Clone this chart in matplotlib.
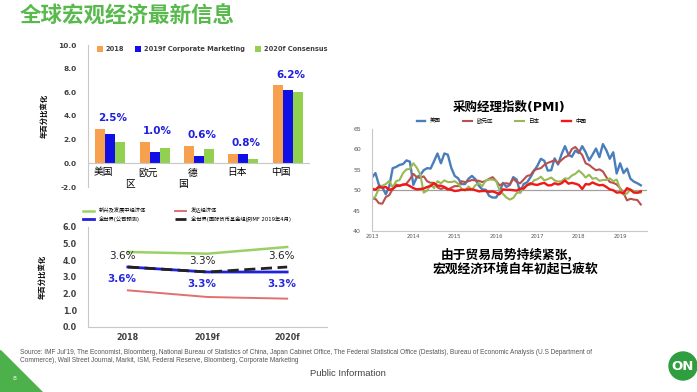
import matplotlib
matplotlib.use('Agg')
import matplotlib.pyplot as plt
import numpy as np
from matplotlib.patches import Polygon, Ellipse

plt.rcParams['font.family'] = ['DejaVu Sans', 'Noto Sans CJK SC']
W, H = 697, 392

# ---- GDP bar chart data ----
countries_top = ['美国', '欧元', '德', '日本', '中国']
countries_wrap = ['', '区', '国', '', '']
gdp_2018 = [2.9, 1.8, 1.5, 0.8, 6.6]
gdp_2019f = [2.5, 1.0, 0.6, 0.8, 6.2]
gdp_2020f = [1.8, 1.3, 1.2, 0.4, 6.0]
gdp_labels = ['2.5%', '1.0%', '0.6%', '0.8%', '6.2%']

# ---- growth line chart data ----
years = ['2018', '2019f', '2020f']
emerging = [4.5, 4.4, 4.8]
advanced = [2.2, 1.8, 1.7]
world_corp = [3.6, 3.3, 3.3]
world_imf = [3.6, 3.3, 3.6]
imf_labels = ['3.6%', '3.3%', '3.6%']
corp_labels = ['3.6%', '3.3%', '3.3%']

# ---- PMI data (monthly, Jan 2013 - Jul 2019) ----
pmi_us = [53.1, 54.2, 51.3, 50.7, 49.0, 50.9, 55.4, 55.7, 56.2, 56.4, 57.3, 57.0,
          51.3, 53.2, 53.7, 54.9, 55.4, 55.3, 57.1, 59.0, 56.6, 59.0, 58.7, 55.5,
          53.5, 52.9, 51.5, 51.5, 52.8, 53.5, 52.7, 51.1, 50.2, 50.1, 48.6, 48.2,
          48.2, 49.5, 51.8, 50.8, 51.3, 53.2, 52.6, 49.4, 51.5, 51.9, 53.2, 54.7,
          56.0, 57.7, 57.2, 54.8, 54.9, 57.8, 56.3, 58.8, 60.8, 58.7, 58.2, 59.7,
          59.1, 60.8, 59.3, 57.3, 58.7, 60.2, 58.1, 61.3, 59.8, 57.7, 59.3, 54.1,
          56.6, 54.2, 55.3, 52.8, 52.1, 51.7, 51.2]
pmi_ez = [47.9, 47.9, 46.8, 46.7, 48.3, 48.8, 50.3, 51.4, 51.1, 51.3, 51.6, 52.7,
          54.0, 53.2, 53.0, 53.4, 52.2, 51.8, 51.8, 50.7, 50.3, 50.6, 50.1, 50.6,
          51.0, 51.0, 52.2, 52.0, 52.2, 52.5, 52.4, 52.3, 52.0, 52.3, 52.8, 53.2,
          52.3, 51.2, 51.6, 51.7, 51.5, 52.8, 52.0, 51.7, 52.6, 53.5, 53.7, 54.9,
          55.2, 55.4, 56.2, 56.7, 57.0, 57.4, 56.6, 57.4, 58.1, 58.5, 60.1, 60.6,
          59.6, 58.6, 56.6, 56.2, 55.5, 54.9, 55.1, 54.6, 53.2, 52.0, 51.8, 51.4,
          50.5, 49.3, 47.5, 47.9, 47.7, 47.6, 46.5]
pmi_jp = [47.7, 48.5, 50.4, 51.1, 51.5, 52.3, 50.7, 52.2, 52.5, 54.2, 55.1, 55.2,
          56.6, 55.5, 53.9, 49.4, 49.9, 51.5, 50.5, 52.2, 51.7, 52.4, 52.0, 52.0,
          52.2, 51.6, 50.3, 49.9, 50.9, 50.1, 51.2, 51.7, 51.0, 52.4, 52.6, 52.6,
          52.3, 50.1, 49.1, 48.2, 47.7, 48.1, 49.3, 49.5, 50.4, 51.4, 51.3, 52.4,
          52.7, 53.3, 52.4, 52.7, 53.1, 52.4, 52.1, 52.2, 52.9, 52.8, 53.6, 54.0,
          54.8, 54.1, 53.1, 53.8, 52.8, 53.0, 52.3, 52.5, 52.5, 52.9, 52.2, 52.6,
          50.3, 48.9, 49.2, 50.2, 49.8, 49.3, 49.4]
pmi_cn = [50.4, 50.1, 50.9, 50.6, 50.8, 50.1, 50.3, 51.0, 51.1, 51.4, 51.4, 51.0,
          50.5, 50.2, 50.3, 50.4, 50.8, 51.0, 51.7, 51.1, 51.1, 50.8, 50.3, 50.1,
          49.8, 49.9, 50.1, 50.1, 50.2, 50.2, 50.0, 49.7, 49.8, 49.8, 49.6, 49.7,
          49.4, 49.0, 50.2, 50.1, 50.1, 50.0, 49.9, 50.4, 50.4, 51.2, 51.7, 51.4,
          51.3, 51.6, 51.8, 51.2, 51.2, 51.7, 51.4, 51.7, 52.4, 51.6, 51.8, 51.6,
          51.3, 50.3, 51.5, 51.4, 51.9, 51.5, 51.2, 51.3, 50.8, 50.2, 50.0, 49.4,
          49.5, 49.2, 50.5, 50.1, 49.4, 49.4, 49.7]
pmi_years = ['2013', '2014', '2015', '2016', '2017', '2018', '2019']

fig = plt.figure(figsize=(W / 100, H / 100), dpi=100)
fig.patch.set_facecolor('white')


def box(x0, y0, x1, y1):
    return [x0 / W, 1 - y1 / H, (x1 - x0) / W, (y1 - y0) / H]


grey = '#c8c8c8'
tick_col = '#404040'

# title
fig.text(20 / W, 1 - 16 / H, '全球宏观经济最新信息', fontsize=15.5, fontweight='bold',
         color='#58b94c', va='center', ha='left', family=['Noto Sans CJK SC'])

# ---------------- bar chart ----------------
ax1 = fig.add_axes(box(88, 45, 310, 187))
x = np.arange(len(countries_top))
bw = 0.225
ax1.bar(x - bw, gdp_2018, bw, color='#f7a04d', label='2018')
ax1.bar(x, gdp_2019f, bw, color='#1010e6', label='2019f Corporate Marketing')
ax1.bar(x + bw, gdp_2020f, bw, color='#92d050', label='2020f Consensus')
ax1.set_xlim(-0.5, 4.5)
ax1.set_ylim(-2, 10)
ax1.set_yticks(np.arange(-2, 10.1, 2))
ax1.set_yticklabels([f'{v:.1f}' for v in np.arange(-2, 10.1, 2)])
ax1.tick_params(axis='y', length=0, pad=8, labelsize=5.3, labelcolor=tick_col)
for lab in ax1.get_yticklabels():
    lab.set_fontweight('bold')
ax1.set_xticks([])
for s in ['top', 'right', 'bottom']:
    ax1.spines[s].set_visible(False)
ax1.spines['left'].set_color(grey)
ax1.axhline(0, color=grey, lw=0.8)
for i in range(len(countries_top)):
    top = max(gdp_2018[i], gdp_2019f[i], gdp_2020f[i])
    ax1.annotate(gdp_labels[i], (i, top), xytext=(2, 4), textcoords='offset points',
                 ha='center', va='bottom', fontsize=7.5, fontweight='bold', color='#1f1fdc')
    ax1.text(i - 0.15, -0.35, countries_top[i], ha='center', va='top', fontsize=7)
    if countries_wrap[i]:
        ax1.text(i - (0.55 if i == 1 else 0.35), -1.3, countries_wrap[i],
                 ha='center', va='top', fontsize=7)
ax1.set_ylabel('年百分比变化', fontsize=5.3, fontweight='bold', labelpad=8)
ax1.legend(loc='upper left', bbox_to_anchor=(91 / W, 1 - 40 / H), bbox_transform=fig.transFigure,
           ncol=3, frameon=False, prop={'size': 4.8, 'weight': 'bold'}, handlelength=0.9,
           handleheight=0.9, handletextpad=0.4, columnspacing=1.6, labelcolor=tick_col)

# ---------------- line chart ----------------
ax2 = fig.add_axes(box(88, 227, 327, 327))
xi = np.arange(len(years))
ax2.plot(xi, emerging, color='#9bd164', lw=1.8, label='新兴及发展中经济体')
ax2.plot(xi, world_corp, color='#2020e0', lw=2.0, label='全世界(公司预测)')
ax2.plot(xi, advanced, color='#e07070', lw=1.4, label='发达经济体')
ax2.plot(xi, world_imf, color='#222222', lw=2.0, ls=(0, (4, 2)),
         label='全世界(国际货币基金组织IMF 2019年4月)')
ax2.set_xlim(-0.5, 2.5)
ax2.set_ylim(0, 6)
ax2.set_xticks(xi)
ax2.set_xticklabels(years, fontsize=5.8, fontweight='bold', color=tick_col)
ax2.set_yticks(np.arange(0, 6.1, 1))
ax2.set_yticklabels([f'{v:.1f}' for v in np.arange(0, 6.1, 1)])
ax2.tick_params(axis='y', length=0, pad=8, labelsize=5.8, labelcolor=tick_col)
ax2.tick_params(axis='x', length=0, pad=4)
for lab in ax2.get_yticklabels():
    lab.set_fontweight('bold')
for s in ['top', 'right']:
    ax2.spines[s].set_visible(False)
ax2.spines['left'].set_color(grey)
ax2.spines['bottom'].set_color(grey)
for i in xi:
    ax2.annotate(imf_labels[i], (i, world_imf[i]), xytext=(-4, 4), textcoords='offset points',
                 ha='center', va='bottom', fontsize=7.5, color='#222222')
    ax2.annotate(corp_labels[i], (i, world_corp[i]), xytext=(-4, -5), textcoords='offset points',
                 ha='center', va='top', fontsize=7.5, color='#2a2ae0', fontweight='bold')
ax2.set_ylabel('年百分比变化', fontsize=5.3, fontweight='bold', labelpad=12)
ax2.legend(loc='upper left', bbox_to_anchor=(78 / W, 1 - 203 / H), bbox_transform=fig.transFigure,
           ncol=2, frameon=False, prop={'size': 3.8}, handlelength=2.2, handletextpad=0.8,
           columnspacing=5.5, labelspacing=0.45)

# ---------------- PMI chart ----------------
ax3 = fig.add_axes(box(372, 129, 647, 231))
t = 2013 + np.arange(len(pmi_us)) / 12
ax3.axhline(50, color='#a0a0a0', lw=0.9)
ax3.plot(t, pmi_us, color='#4a7ebb', lw=1.7, label='美国')
ax3.plot(t, pmi_ez, color='#b9504d', lw=1.5, label='欧元区')
ax3.plot(t, pmi_jp, color='#98b954', lw=1.5, label='日本')
ax3.plot(t, pmi_cn, color='#f01818', lw=1.7, label='中国')
ax3.set_xlim(2013, 2019.65)
ax3.set_ylim(40, 65)
ax3.set_yticks(np.arange(40, 66, 5))
ax3.set_xticks([int(y) for y in pmi_years])
ax3.set_xticklabels(pmi_years)
ax3.tick_params(axis='y', length=0, pad=8, labelsize=4.5, labelcolor='#555555')
ax3.tick_params(axis='x', length=0, pad=2, labelsize=3.8, labelcolor='#555555')
for s in ['top', 'right']:
    ax3.spines[s].set_visible(False)
ax3.spines['left'].set_color(grey)
ax3.spines['bottom'].set_color(grey)
ax3.set_title('采购经理指数(PMI)', fontsize=9, fontweight='bold', pad=13)
ax3.legend(loc='lower center', bbox_to_anchor=(0.47, 1.0), ncol=4, frameon=False,
           prop={'size': 4}, handlelength=1.6, columnspacing=4.0)

fig.text(507 / W, 1 - 254 / H, '由于贸易局势持续紧张,', fontsize=9.2, fontweight='bold',
         ha='center', va='center', family=['Noto Sans CJK SC'])
fig.text(515 / W, 1 - 269 / H, '宏观经济环境自年初起已疲软', fontsize=9.2, fontweight='bold',
         ha='center', va='center', family=['Noto Sans CJK SC'])

# ---------------- footer ----------------
fig.patches.append(Polygon([[0, 1 - 350 / H], [0, 0], [42 / W, 0]], closed=True,
                           transform=fig.transFigure, color='#4cb14a', zorder=0))
fig.text(15 / W, 1 - 379 / H, '8', fontsize=4.5, color='white', ha='center', va='center')
fig.text(20 / W, 1 - 357 / H,
         "Source: IMF Jul'19, The Economist, Bloomberg, National Bureau of Statistics of China, "
         "Japan Cabinet Office, The Federal Statistical Office (Destatis), Bureau of Economic "
         "Analysis (U.S Department of\nCommerce), Wall Street Journal, Markit, ISM, Federal "
         "Reserve, Bloomberg, Corporate Marketing",
         fontsize=4.7, color='#555555', ha='left', va='center', family='Liberation Sans',
         linespacing=1.2)
fig.text(348 / W, 1 - 373 / H, 'Public Information', fontsize=6.8, color='#444444',
         ha='center', va='center', family='Liberation Sans')
fig.patches.append(Ellipse((683 / W, 1 - 366 / H), 28 / W, 28 / H, transform=fig.transFigure,
                           color='#2f9e3f', zorder=0))
fig.text(683 / W, 1 - 366 / H, 'ON', fontsize=9.5, fontweight='bold', color='white',
         ha='center', va='center', family='Liberation Sans Narrow')

fig.savefig('out.png', dpi=100)
